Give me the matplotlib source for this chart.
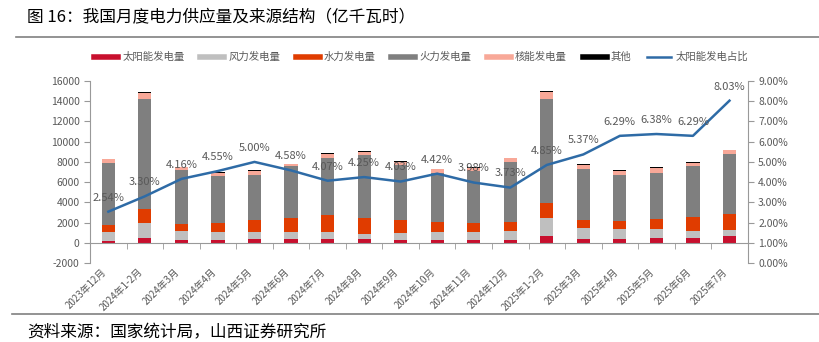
import numpy as np
import matplotlib
matplotlib.use("Agg")
import matplotlib.pyplot as plt
from matplotlib.lines import Line2D

plt.rcParams['font.family'] = ['Noto Sans CJK SC', 'DejaVu Sans']
plt.rcParams['axes.unicode_minus'] = False

# 数据（亿千瓦时）
months = ['2023年12月', '2024年1-2月', '2024年3月', '2024年4月', '2024年5月', '2024年6月',
          '2024年7月', '2024年8月', '2024年9月', '2024年10月', '2024年11月', '2024年12月',
          '2025年1-2月', '2025年3月', '2025年4月', '2025年5月', '2025年6月', '2025年7月']
solar = [200, 520, 300, 300, 360, 360, 360, 360, 300, 300, 300, 300, 720, 400, 400, 460, 460, 720]
wind = [820, 1420, 880, 760, 690, 660, 660, 460, 690, 750, 750, 880, 1780, 1050, 980, 920, 720, 530]
hydro = [760, 1420, 690, 890, 1220, 1420, 1680, 1680, 1220, 1050, 890, 890, 1480, 820, 790, 990, 1420, 1550]
thermal = [6080, 10820, 5330, 4610, 4440, 5160, 5720, 6150, 5500, 4840, 5200, 5960, 10200, 5040, 4510, 4570, 4970, 5990]
nuclear = [400, 660, 270, 390, 430, 170, 330, 330, 290, 330, 300, 360, 760, 400, 430, 460, 360, 400]
other = [60, 100, 30, 70, 40, 60, 130, 130, 100, 20, 20, 20, 60, 100, 70, 70, 70, 20]
solar_share = [2.54, 3.30, 4.16, 4.55, 5.00, 4.58, 4.07, 4.25, 4.03, 4.42, 3.98, 3.73,
               4.85, 5.37, 6.29, 6.38, 6.29, 8.03]

c_solar = '#C8102E'
c_wind = '#BFBFBF'
c_hydro = '#E03C00'
c_thermal = '#7F7F7F'
c_nuclear = '#F8A898'
c_other = '#000000'
c_line = '#2E6BA6'
txt = '#595959'

fig = plt.figure(figsize=(8.19, 3.42), dpi=100)
ax = fig.add_axes([0.110, 0.231, 0.803, 0.532])
ax2 = ax.twinx()

x = np.arange(len(months))
w = 0.36
series = [(solar, c_solar, '太阳能发电量'), (wind, c_wind, '风力发电量'),
          (hydro, c_hydro, '水力发电量'), (thermal, c_thermal, '火力发电量'),
          (nuclear, c_nuclear, '核能发电量'), (other, c_other, '其他')]
bottom = np.zeros(len(months))
for vals, col, lab in series:
    ax.bar(x, vals, w, bottom=bottom, color=col, zorder=2)
    bottom += np.array(vals)

ax.set_xlim(-0.5, len(months) - 0.5)
ax.set_ylim(-2000, 16000)
ax.set_yticks(np.arange(-2000, 16001, 2000))
ax2.set_ylim(0, 9)
ax2.set_yticks(np.arange(0, 9.01, 1))
ax2.set_yticklabels([f'{v:.2f}%' for v in np.arange(0, 9.01, 1)])

ax2.plot(x, solar_share, color=c_line, lw=1.8, zorder=3)
for xi, v in zip(x, solar_share):
    ax2.text(xi, v + 0.45, f'{v:.2f}%', ha='center', va='bottom', fontsize=8, color=txt)

for a in (ax, ax2):
    a.spines['top'].set_visible(False)
    a.spines['left'].set_color('#999999')
    a.spines['right'].set_color('#999999')
ax.spines['right'].set_visible(False)
ax2.spines['left'].set_visible(False)
ax2.spines['bottom'].set_visible(False)
ax.spines['bottom'].set_position(('data', 0))
ax.spines['bottom'].set_color('#999999')

ax.set_xticks(x)
ax.set_xticklabels(months, rotation=45, ha='right', va='top', fontsize=7, color=txt)
ax.tick_params(axis='x', which='major', length=0, pad=17)
ax.set_xticks(np.arange(-0.5, len(months), 1), minor=True)
ax.tick_params(axis='x', which='minor', length=4, color='#999999')
ax.tick_params(axis='y', labelsize=7.5, labelcolor=txt, color='#999999', length=4)
ax2.tick_params(axis='y', labelsize=7.5, labelcolor=txt, color='#999999', length=4)

handles = [Line2D([0], [0], color=col, lw=4) for _, col, _ in series]
handles.append(Line2D([0], [0], color=c_line, lw=1.8))
labels = [lab for _, _, lab in series] + ['太阳能发电占比']
fig.legend(handles, labels, loc='center', bbox_to_anchor=(0.514, 0.833), ncol=7,
           frameon=False, fontsize=7.5, handlelength=2.3, handletextpad=0.4,
           columnspacing=1.5, labelcolor=txt)

fig.text(0.033, 0.947, '图 16：我国月度电力供应量及来源结构（亿千瓦时）', fontsize=12,
         va='center', ha='left', color='#000000')
fig.add_artist(Line2D([0.02, 1.0], [0.892, 0.892], color='#808080', lw=1.2))
fig.add_artist(Line2D([0.015, 1.0], [0.082, 0.082], color='#808080', lw=1.2))
fig.text(0.033, 0.026, '资料来源：国家统计局，山西证券研究所', fontsize=12, va='center',
         ha='left', color='#000000')

fig.savefig('out.png', dpi=100)
